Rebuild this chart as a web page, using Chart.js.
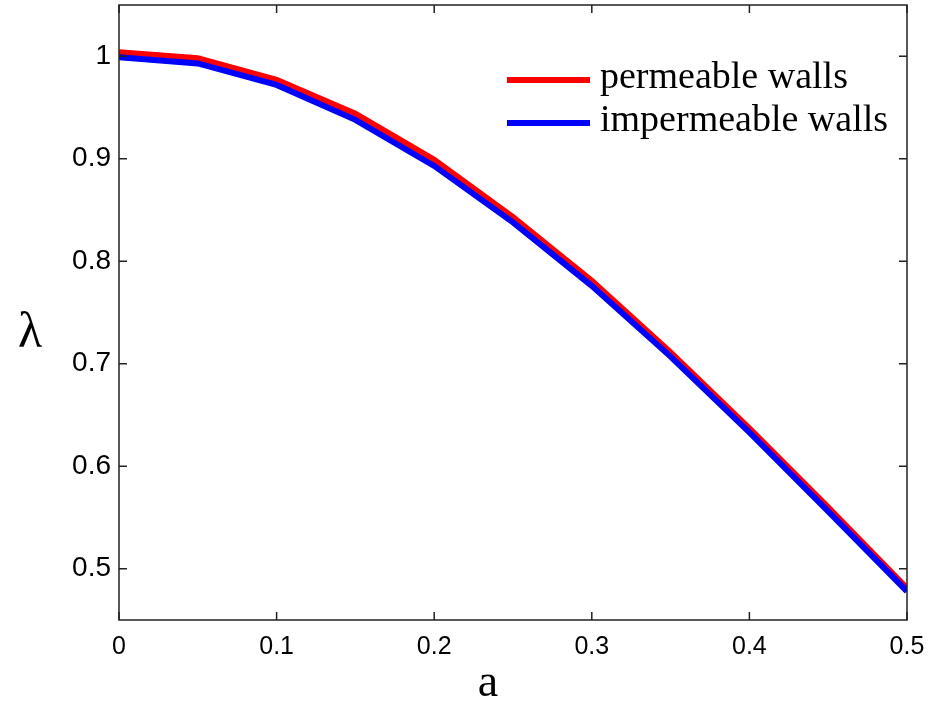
<!DOCTYPE html>
<html>
<head>
<meta charset="utf-8">
<script src="https://cdn.jsdelivr.net/npm/chart.js@4.4.1/dist/chart.umd.min.js"></script>
<style>
  html, body { margin: 0; padding: 0; background: #fff; }
  #wrap { width: 930px; height: 702px; }
</style>
</head>
<body>
<div id="wrap"><canvas id="lambdaChart" width="930" height="702"></canvas></div>
<script>
// values
const aValues = [0, 0.05, 0.1, 0.15, 0.2, 0.25, 0.3, 0.35, 0.4, 0.45, 0.5];
const permeable = [1.004, 0.998, 0.977, 0.944, 0.899, 0.843, 0.781, 0.711, 0.637, 0.560, 0.481];
const impermeable = [0.999, 0.993, 0.972, 0.938, 0.893, 0.838, 0.776, 0.707, 0.633, 0.556, 0.478];
const xTicks = [0, 0.1, 0.2, 0.3, 0.4, 0.5];
const yTicks = [0.5, 0.6, 0.7, 0.8, 0.9, 1];
const seriesLabels = ['permeable walls', 'impermeable walls'];
const seriesColors = ['#ff0000', '#0000ff'];

const toPoints = (ys) => aValues.map((x, i) => ({ x: x, y: ys[i] }));
const fmt = (v) => String(Math.round(v * 10) / 10);

// box around the plot with inward ticks on all four sides, plus legend and axis symbols
const frameAndLegend = {
  id: 'frameAndLegend',
  afterDraw(chart) {
    const ctx = chart.ctx;
    const area = chart.chartArea;
    const xs = chart.scales.x;
    const ys = chart.scales.y;
    const tick = 8;

    ctx.save();
    ctx.strokeStyle = '#222';
    ctx.lineWidth = 1.5;
    ctx.strokeRect(area.left, area.top, area.right - area.left, area.bottom - area.top);

    ctx.beginPath();
    xTicks.forEach(v => {
      const px = xs.getPixelForValue(v);
      ctx.moveTo(px, area.bottom); ctx.lineTo(px, area.bottom - tick);
      ctx.moveTo(px, area.top); ctx.lineTo(px, area.top + tick);
    });
    yTicks.forEach(v => {
      const py = ys.getPixelForValue(v);
      ctx.moveTo(area.left, py); ctx.lineTo(area.left + tick, py);
      ctx.moveTo(area.right, py); ctx.lineTo(area.right - tick, py);
    });
    ctx.stroke();

    // legend
    const rows = [80, 123];
    ctx.font = '38px "Liberation Serif", "Times New Roman", serif';
    ctx.textBaseline = 'middle';
    ctx.textAlign = 'left';
    seriesLabels.forEach((label, i) => {
      ctx.strokeStyle = seriesColors[i];
      ctx.lineWidth = 6;
      ctx.beginPath();
      ctx.moveTo(507, rows[i]);
      ctx.lineTo(590, rows[i]);
      ctx.stroke();
      ctx.fillStyle = '#000';
      ctx.fillText(label, 600, rows[i] - 2);
    });

    // axis symbols
    ctx.fillStyle = '#000';
    ctx.textAlign = 'center';
    ctx.font = '50px "Liberation Serif", "Times New Roman", serif';
    ctx.fillText('λ', 30, 334);
    ctx.font = '46px "Liberation Serif", "Times New Roman", serif';
    ctx.fillText('a', 488, 684);
    ctx.restore();
  }
};

const ctx = document.getElementById('lambdaChart').getContext('2d');

new Chart(ctx, {
  type: 'line',
  data: {
    datasets: [
      {
        label: seriesLabels[0],
        data: toPoints(permeable),
        borderColor: seriesColors[0],
        borderWidth: 6,
        pointRadius: 0,
        fill: false,
        tension: 0,
        order: 1
      },
      {
        label: seriesLabels[1],
        data: toPoints(impermeable),
        borderColor: seriesColors[1],
        borderWidth: 6,
        pointRadius: 0,
        fill: false,
        tension: 0,
        order: 0
      }
    ]
  },
  options: {
    responsive: false,
    animation: false,
    layout: { padding: { top: 5, right: 23, left: 0, bottom: 0 } },
    plugins: {
      legend: { display: false },
      tooltip: { enabled: false }
    },
    scales: {
      x: {
        type: 'linear',
        min: 0,
        max: 0.5,
        afterBuildTicks: (scale) => { scale.ticks = xTicks.map(v => ({ value: v })); },
        afterFit: (scale) => {
          scale.height = 82;
          scale.paddingLeft = 0;
          scale.paddingRight = 0;
        },
        grid: { display: false, drawTicks: false },
        border: { display: false },
        ticks: {
          padding: 12,
          color: '#000',
          font: { family: '"Liberation Sans", Arial, sans-serif', size: 25 },
          callback: (v) => fmt(v)
        }
      },
      y: {
        type: 'linear',
        min: 0.45,
        max: 1.05,
        afterBuildTicks: (scale) => { scale.ticks = yTicks.map(v => ({ value: v })); },
        afterFit: (scale) => {
          scale.width = 119;
          scale.paddingTop = 0;
          scale.paddingBottom = 0;
        },
        grid: { display: false, drawTicks: false },
        border: { display: false },
        ticks: {
          padding: 8,
          color: '#000',
          font: { family: '"Liberation Sans", Arial, sans-serif', size: 28 },
          callback: (v) => fmt(v)
        }
      }
    }
  },
  plugins: [frameAndLegend]
});
</script>
</body>
</html>
